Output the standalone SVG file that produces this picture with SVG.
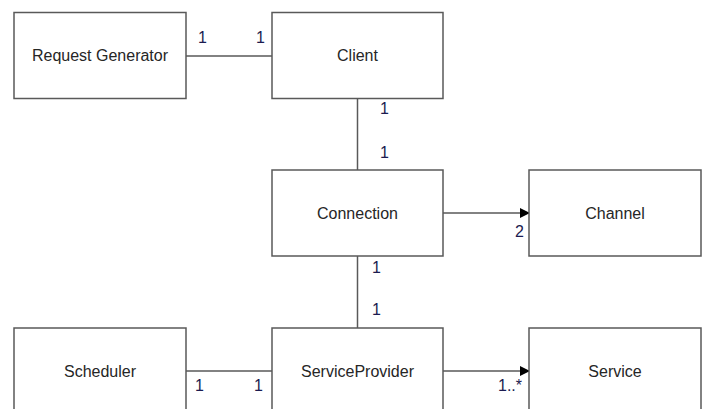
<svg xmlns="http://www.w3.org/2000/svg" width="702" height="409" viewBox="0 0 702 409">
<style>
.box{fill:#fff;stroke:#595959;stroke-width:1.5}
.lbl{font-family:"Liberation Sans",Arial,sans-serif;font-size:16px;fill:#262626;text-anchor:middle}
.m{font-family:"Liberation Sans",Arial,sans-serif;font-size:16px;fill:#1b1b50}
.ln{stroke:#595959;stroke-width:1.5;fill:none}
</style>
<defs>
<marker id="arr" markerWidth="10" markerHeight="10" refX="9" refY="5" orient="auto" markerUnits="userSpaceOnUse">
<path d="M0,0 L10,5 L0,10 Z" fill="#000"/>
</marker>
</defs>
<rect width="702" height="409" fill="#fff"/>
<g id="connectors">
<line class="ln" x1="186" y1="56" x2="272" y2="56"/>
<line class="ln" x1="357.5" y1="98" x2="357.5" y2="170"/>
<line class="ln" x1="443" y1="213" x2="529" y2="213" marker-end="url(#arr)"/>
<line class="ln" x1="357.5" y1="256" x2="357.5" y2="328"/>
<line class="ln" x1="186" y1="371" x2="272" y2="371"/>
<line class="ln" x1="443" y1="371" x2="529" y2="371" marker-end="url(#arr)"/>
<text class="m" x="198" y="43">1</text>
<text class="m" x="256" y="43">1</text>
<text class="m" x="380" y="114">1</text>
<text class="m" x="380" y="158">1</text>
<text class="m" x="515" y="237">2</text>
<text class="m" x="372" y="273">1</text>
<text class="m" x="372" y="315">1</text>
<text class="m" x="195" y="391">1</text>
<text class="m" x="254" y="391">1</text>
<text class="m" x="498" y="391">1..*</text>
</g>
<g id="request-generator"><rect class="box" x="14" y="12.5" width="172" height="86"/><text class="lbl" x="100" y="61">Request Generator</text></g>
<g id="client"><rect class="box" x="272" y="12.5" width="171" height="86"/><text class="lbl" x="357.5" y="61">Client</text></g>
<g id="connection"><rect class="box" x="272" y="170" width="171" height="86"/><text class="lbl" x="357.5" y="219">Connection</text></g>
<g id="channel"><rect class="box" x="529" y="170" width="172" height="86"/><text class="lbl" x="615" y="219">Channel</text></g>
<g id="scheduler"><rect class="box" x="14" y="328" width="172" height="86"/><text class="lbl" x="100" y="377">Scheduler</text></g>
<g id="service-provider"><rect class="box" x="272" y="328" width="171" height="86"/><text class="lbl" x="357.5" y="377">ServiceProvider</text></g>
<g id="service"><rect class="box" x="529" y="328" width="172" height="86"/><text class="lbl" x="615" y="377">Service</text></g>
</svg>
